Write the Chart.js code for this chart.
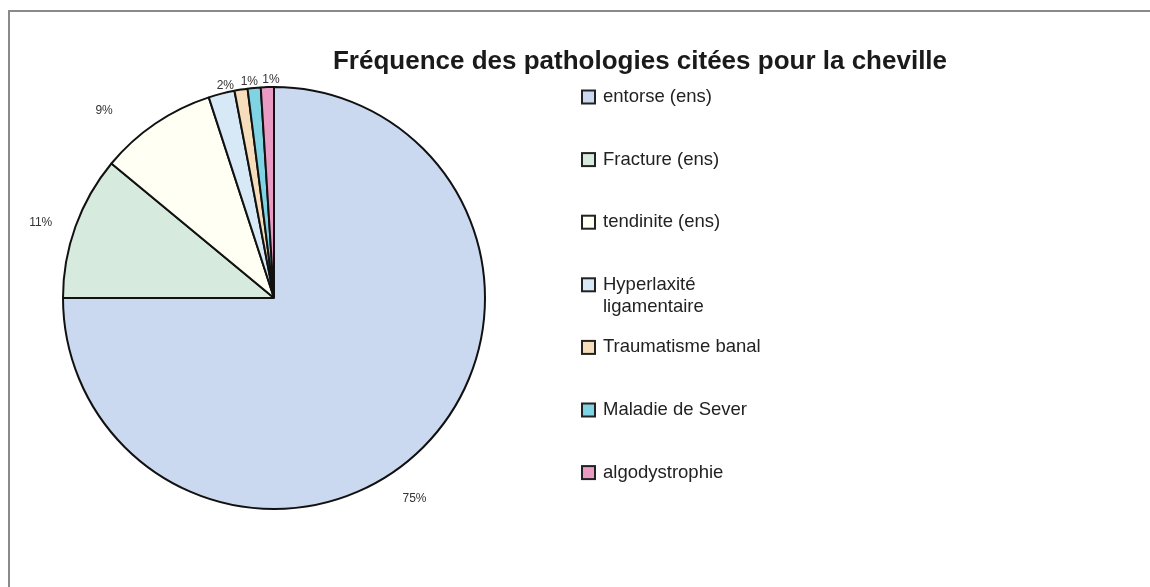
<!DOCTYPE html>
<html>
<head>
<meta charset="utf-8">
<script src="https://cdn.jsdelivr.net/npm/chart.js@4.4.1/dist/chart.umd.min.js"></script>
<style>
html,body{margin:0;padding:0;background:#fff;}
#wrap{width:1150px;height:587px;position:relative;}
</style>
</head>
<body>
<div id="wrap"><canvas id="c" width="1150" height="587"></canvas></div>
<script>
const titleText = "Fréquence des pathologies citées pour la cheville";
const categories = ["entorse (ens)", "Fracture (ens)", "tendinite (ens)", "Hyperlaxité ligamentaire", "Traumatisme banal", "Maladie de Sever", "algodystrophie"];
const values = [75, 11, 9, 2, 1, 1, 1];
const valueLabels = ["75%", "11%", "9%", "2%", "1%", "", "1%"];
const colors = ["#cbd9f0", "#d6ebdd", "#fffff4", "#d7e9f6", "#f6ddbb", "#80d3e2", "#e99bc4"];
// label placement style (angle nudge in degrees, distance beyond the rim)
const labelNudgeDeg = [10, -2, -8, 1.5, 2.5, 0, 1];
const labelGap = [34, 34, 42, 7, 7, 7, 7];

const FONT = '"Liberation Sans", Arial, sans-serif';

const framePlugin = {
  id: 'frame',
  beforeDraw(chart) {
    const ctx = chart.ctx;
    ctx.save();
    ctx.fillStyle = '#fff';
    ctx.fillRect(0, 0, chart.width, chart.height);
    ctx.strokeStyle = '#8a8a8a';
    ctx.lineWidth = 2;
    ctx.beginPath();
    ctx.moveTo(9, chart.height);
    ctx.lineTo(9, 11);
    ctx.lineTo(chart.width, 11);
    ctx.stroke();
    ctx.font = 'bold 26px ' + FONT;
    ctx.fillStyle = '#1a1a1a';
    ctx.textAlign = 'center';
    ctx.textBaseline = 'middle';
    ctx.fillText(titleText, 640, 62);
    ctx.restore();
  }
};

const labelPlugin = {
  id: 'sliceLabels',
  afterDatasetsDraw(chart) {
    const ctx = chart.ctx;
    const meta = chart.getDatasetMeta(0);
    ctx.save();
    ctx.font = '12px ' + FONT;
    ctx.fillStyle = '#333';
    ctx.textAlign = 'center';
    ctx.textBaseline = 'middle';
    meta.data.forEach((arc, i) => {
      const t = valueLabels[i];
      if (!t) return;
      const mid = (arc.startAngle + arc.endAngle) / 2 + labelNudgeDeg[i] * Math.PI / 180;
      const r = arc.outerRadius + labelGap[i];
      ctx.fillText(t, arc.x + Math.cos(mid) * r, arc.y + Math.sin(mid) * r);
    });
    ctx.restore();
  }
};

const legendPlugin = {
  id: 'customLegend',
  afterDraw(chart) {
    const ctx = chart.ctx;
    ctx.save();
    ctx.font = '18.5px ' + FONT;
    ctx.textBaseline = 'middle';
    ctx.textAlign = 'left';
    const x0 = 582, box = 13, tx = 603, maxW = 172;
    categories.forEach((name, i) => {
      const y = 97 + i * 62.6;
      const words = name.split(' ');
      const lines = [];
      let cur = '';
      words.forEach(w => {
        const test = cur ? cur + ' ' + w : w;
        if (ctx.measureText(test).width > maxW && cur) { lines.push(cur); cur = w; }
        else cur = test;
      });
      lines.push(cur);
      ctx.fillStyle = colors[i];
      ctx.fillRect(x0, y - box / 2, box, box);
      ctx.strokeStyle = '#222';
      ctx.lineWidth = 2;
      ctx.strokeRect(x0, y - box / 2, box, box);
      ctx.fillStyle = '#222';
      lines.forEach((l, k) => ctx.fillText(l, tx, y + k * 22));
    });
    ctx.restore();
  }
};

new Chart(document.getElementById('c'), {
  type: 'pie',
  data: {
    labels: categories,
    datasets: [{
      data: values,
      backgroundColor: colors,
      borderColor: '#111',
      borderWidth: 2
    }]
  },
  options: {
    responsive: false,
    animation: false,
    layout: { padding: { left: 62, top: 86, right: 664, bottom: 77 } },
    plugins: {
      legend: { display: false },
      tooltip: { enabled: false },
      title: { display: false }
    }
  },
  plugins: [framePlugin, labelPlugin, legendPlugin]
});
</script>
</body>
</html>
